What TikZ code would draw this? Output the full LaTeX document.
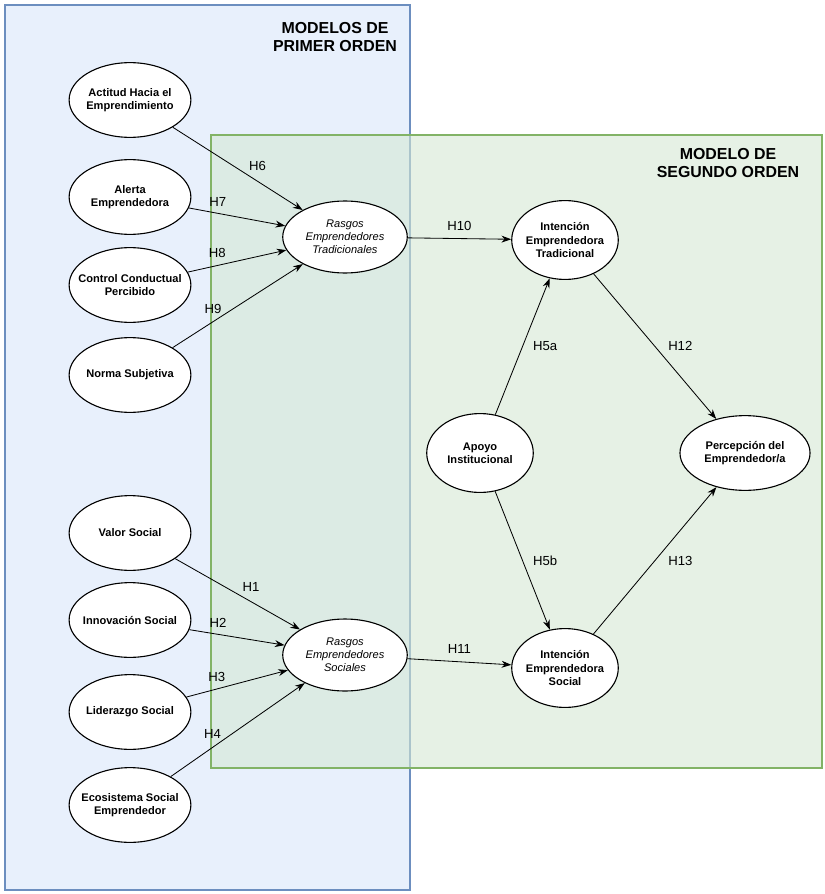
\documentclass[tikz,border=0pt]{standalone}
\usepackage{fontspec}
\setmainfont{Liberation Sans}
\usetikzlibrary{shapes.geometric, arrows.meta, positioning}
\definecolor{firstBlue}{RGB}{232, 240, 252}
\definecolor{firstLine}{RGB}{108, 142, 191}
\definecolor{secondGreen}{RGB}{213, 232, 212}
\definecolor{secondLine}{RGB}{130, 179, 102}
\tikzset{
    % Construct Style
    construct/.style={
        ellipse,
        draw=black,
        fill=white,
        thick,
        minimum width=88pt,
        minimum height=54pt,
        text centered,
        align=center,
        inner xsep=-9pt,
        inner ysep=0pt,
        font=\fontsize{8}{9.5}\selectfont\bfseries
    },
    latent/.style={construct, minimum width=90pt, minimum height=52pt, font=\fontsize{8}{9.5}\selectfont\itshape},
    intent/.style={construct, minimum width=77pt, minimum height=57pt},
    % Arrow & Label Styles
    arrow/.style={-{Stealth[length=7pt,width=5pt]}, semithick, draw=black},
    hyp/.style={font=\fontsize{9.5}{11}\selectfont},
    groupLabel/.style={font=\fontsize{11.5}{13}\selectfont\bfseries, align=center}
}
\begin{document}
\begin{tikzpicture}[x=0.7227pt, y=-0.7227pt]
    \useasboundingbox (0,0) rectangle (825,894);

    % --- Background Grouping ---
    \fill [firstBlue] (5,5) rectangle (410,890);
    \draw [firstLine, thick] (5,5) rectangle (410,890);
    \fill [secondGreen, opacity=0.6] (211,135) rectangle (822,768);
    \draw [secondLine, thick] (211,135) rectangle (822,768);
    \node [groupLabel] at (335,37) {MODELOS DE\\PRIMER ORDEN};
    \node [groupLabel] at (728,163) {MODELO DE\\SEGUNDO ORDEN};

    % --- LEFT COLUMN (First Order) ---
    \node (actitud) [construct] at (130,100) {Actitud Hacia el\\Emprendimiento};
    \node (alerta) [construct] at (130,197) {Alerta\\Emprendedora};
    \node (control) [construct] at (130,285) {Control Conductual\\Percibido};
    \node (norma) [construct] at (130,375) {Norma Subjetiva};
    \node (valor) [construct] at (130,533) {Valor Social};
    \node (innov) [construct] at (130,620) {Innovación Social};
    \node (lider) [construct] at (130,712) {Liderazgo Social};
    \node (ecosis) [construct] at (130,805) {Ecosistema Social\\Emprendedor};

    % --- MIDDLE (Second Order) ---
    \node (rasgosT) [latent] at (345,237) {Rasgos\\Emprendedores\\Tradicionales};
    \node (rasgosS) [latent] at (345,655) {Rasgos\\Emprendedores\\Sociales};

    % --- RIGHT ---
    \node (intT) [intent] at (565,240) {Intención\\Emprendedora\\Tradicional};
    \node (intS) [intent] at (565,668) {Intención\\Emprendedora\\Social};
    \node (apoyo) [intent] at (480,453) {Apoyo\\Institucional};
    \node (percep) [construct, minimum width=94pt] at (745,453) {Percepción del\\Emprendedor/a};

    % --- Arrows ---
    \draw [arrow] (actitud) -- node [hyp, pos=0.55, above right=-2pt and 0pt] {H6} (rasgosT);
    \draw [arrow] (alerta) -- node [hyp, pos=0.3, above=1pt] {H7} (rasgosT);
    \draw [arrow] (control) -- node [hyp, pos=0.3, above=2pt] {H8} (rasgosT);
    \draw [arrow] (norma) -- node [hyp, pos=0.35, above left=0pt and -6pt] {H9} (rasgosT);
    \draw [arrow] (valor) -- node [hyp, pos=0.5, above right=-2pt and 0pt] {H1} (rasgosS);
    \draw [arrow] (innov) -- node [hyp, pos=0.3, above=1pt] {H2} (rasgosS);
    \draw [arrow] (lider) -- node [hyp, pos=0.3, above=2pt] {H3} (rasgosS);
    \draw [arrow] (ecosis) -- node [hyp, pos=0.35, above left=0pt and -6pt] {H4} (rasgosS);
    \draw [arrow] (rasgosT) -- node [hyp, above=2pt] {H10} (intT);
    \draw [arrow] (rasgosS) -- node [hyp, above=2pt] {H11} (intS);
    \draw [arrow] (apoyo) -- node [hyp, right=4pt] {H5a} (intT);
    \draw [arrow] (apoyo) -- node [hyp, right=4pt] {H5b} (intS);
    \draw [arrow] (intT) -- node [hyp, right=6pt] {H12} (percep);
    \draw [arrow] (intS) -- node [hyp, right=6pt] {H13} (percep);

\end{tikzpicture}
\end{document}
